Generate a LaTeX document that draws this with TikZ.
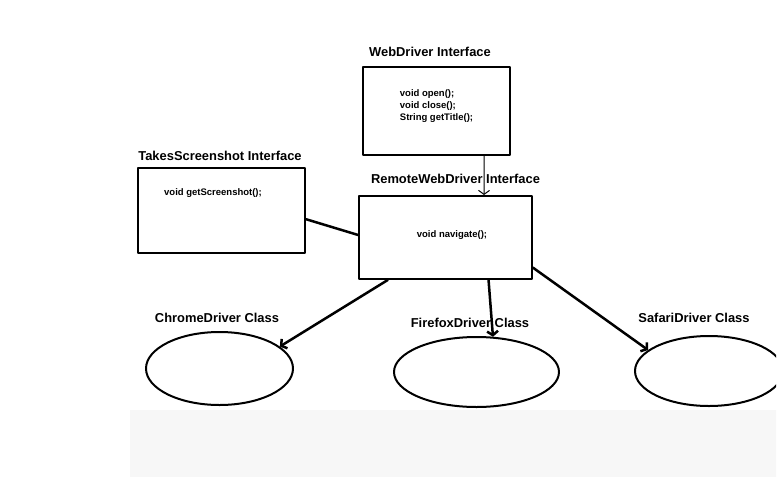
\documentclass[tikz,border=0pt]{standalone}
\usepackage{fontspec}
\setmainfont{Liberation Sans}
\usetikzlibrary{arrows.meta,shapes.geometric,calc}

\begin{document}
\begin{tikzpicture}[line cap=round,line join=round,x=1pt,y=-1pt,
  >={Straight Barb[length=4pt,width=11pt]},
  title/.style={font=\fontsize{12.9}{14}\selectfont\bfseries,inner sep=0pt},
  meth/.style={font=\fontsize{9.5}{12}\selectfont\bfseries,inner sep=0pt,align=left},
  iface/.style={draw,line width=2pt,inner sep=0pt},
  cls/.style={draw,ellipse,line width=2pt,inner sep=0pt},
  link/.style={line width=2.5pt}]
\useasboundingbox (0,0) rectangle (782,477);
\begin{scope}
\clip (130,40) rectangle (776,477);
\fill[black!3] (130,410) rectangle (777,477);
% interfaces
\node[iface,minimum width=147pt,minimum height=88pt] (wd) at (436.5,111) {};
\node[title] (wdname) at (430,52) {WebDriver Interface};
\node[meth] (wdmeth) at (436.5,106) {void open();\\void close();\\String getTitle();};
\node[iface,minimum width=167pt,minimum height=85pt] (ts) at (221.5,210.5) {};
\node[title] (tsname) at (220,156) {TakesScreenshot Interface};
\node[meth] (tsmeth) at (213,193) {void getScreenshot();};
\node[iface,minimum width=173pt,minimum height=83pt] (rwd) at (445.5,237.5) {};
\node[title] (rwdname) at (455.5,179) {RemoteWebDriver Interface};
\node[meth] (rwdmeth) at (452,235) {void navigate();};
% classes
\node[cls,minimum width=147pt,minimum height=73pt] (chrome) at (219.5,368.5) {};
\node[title] (chromename) at (217,318) {ChromeDriver Class};
\node[cls,minimum width=165pt,minimum height=70pt] (firefox) at (476.5,372) {};
\node[title] (firefoxname) at (470,323) {FirefoxDriver Class};
\node[cls,minimum width=148pt,minimum height=70pt] (safari) at (709,371) {};
\node[title] (safariname) at (694,318) {SafariDriver Class};
% links
\draw[->,line width=1pt] ($(wd.south west)!0.82!(wd.south east)$) -- ($(rwd.north west)!0.72!(rwd.north east)$);
\draw[link] ($(ts.north east)!0.6!(ts.south east)$) -- ($(rwd.north west)!0.47!(rwd.south west)$);
\draw[link,->] ($(rwd.south west)!0.17!(rwd.south east)$) -- (chrome.20);
\draw[link,->] ($(rwd.south west)!0.746!(rwd.south east)$) -- (firefox.65);
\draw[link,->] ($(rwd.north east)!0.855!(rwd.south east)$) -- (safari.161);
\end{scope}
\end{tikzpicture}
\end{document}
